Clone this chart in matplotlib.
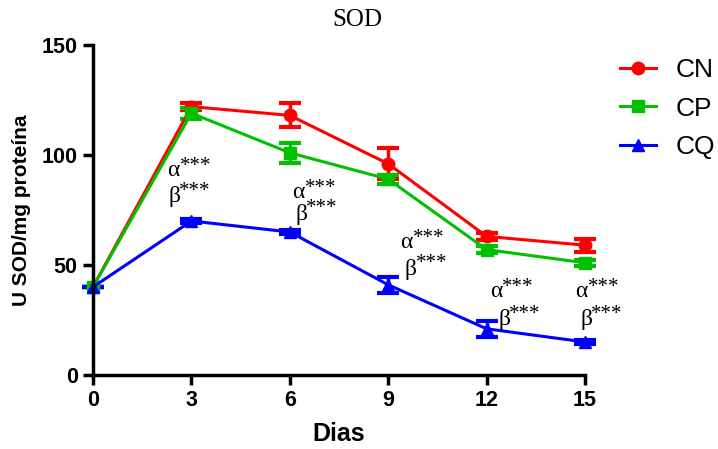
import numpy as np
import matplotlib.pyplot as plt

# dados
dias = [0, 3, 6, 9, 12, 15]
grupos = ['CN', 'CP', 'CQ']
cn = [40, 122, 118, 96, 63, 59]
cn_err = [0, 1.5, 5.5, 7, 1.5, 3]
cp = [40, 119, 101, 89, 57, 51]
cp_err = [0, 2.5, 4.5, 2, 1.5, 1.5]
cq = [40, 70, 65, 41, 21, 15]
cq_err = [0, 1, 1, 3.5, 3.5, 1]

# anotacoes: x do alfa, y do alfa, x do beta, y do beta
alfa_x = [2.26, 6.07, 9.36, 12.1, 14.7]
alfa_y = [93, 83, 60, 38, 38]
beta_x = [2.29, 6.16, 9.51, 12.35, 14.85]
beta_y = [81, 73, 48, 25, 25]

fig = plt.figure(figsize=(7.18, 4.49), dpi=100)
ax = fig.add_axes([93/718, 1-375/449, (585-93)/718, (375-45)/449])

kw = dict(lw=2.2, markersize=9, capsize=8, capthick=3, elinewidth=2.5)
e1 = ax.errorbar(dias, cn, yerr=cn_err, color='#ff0000', marker='o', **kw)
e2 = ax.errorbar(dias, cp, yerr=cp_err, color='#00c000', marker='s', **kw)
e3 = ax.errorbar(dias, cq, yerr=cq_err, color='#0000ff', marker='^', **kw)

serif = 'Liberation Serif'
for x, y in zip(alfa_x, alfa_y):
    ax.text(x, y, 'α', family=serif, fontsize=17, ha='left', va='center')
    ax.annotate('***', xy=(x, y), xytext=(9, 3), textcoords='offset points',
                family=serif, fontsize=15, ha='left', va='center')
for x, y in zip(beta_x, beta_y):
    ax.text(x, y, 'β', family=serif, fontsize=17, ha='left', va='center')
    ax.annotate('***', xy=(x, y), xytext=(8, 4), textcoords='offset points',
                family=serif, fontsize=15, ha='left', va='center')

ax.set_xlim(0, 15)
ax.set_ylim(0, 150)
ax.set_xticks(dias)
ax.set_yticks([0, 50, 100, 150])
for s in ['top', 'right']:
    ax.spines[s].set_visible(False)
for s in ['left', 'bottom']:
    ax.spines[s].set_linewidth(2.5)
ax.tick_params(width=2.5, length=7, direction='out', labelsize=15.5, pad=4)
for lb in ax.get_xticklabels() + ax.get_yticklabels():
    lb.set_family('Liberation Sans')
    lb.set_fontweight('bold')
for c in ax.get_children():
    try:
        c.set_clip_on(False)
    except Exception:
        pass

ax.set_xlabel('Dias', family='Liberation Sans', fontweight='bold', fontsize=18, labelpad=8)
ax.set_ylabel('U SOD/mg proteína', family='Liberation Sans', fontweight='bold', fontsize=15, labelpad=8)
fig.text(357/718, 1-20/449, 'SOD', family=serif, fontsize=18, ha='center', va='center')

fig.legend([e1[0], e2[0], e3[0]], grupos, loc='upper left',
           bbox_to_anchor=(620/718, 1-58/449), frameon=False,
           prop={'family': 'Liberation Sans', 'size': 19}, handlelength=1.35,
           handletextpad=0.75, labelspacing=0.55, borderpad=0, borderaxespad=0)

fig.savefig('out.png', dpi=100)
